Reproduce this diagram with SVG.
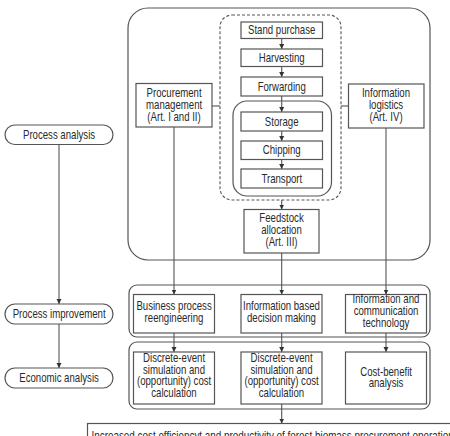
<svg xmlns="http://www.w3.org/2000/svg" width="450" height="436" viewBox="0 0 450 436">
<defs>
<style>
text{font-family:"Liberation Sans",Arial,sans-serif;font-size:12.5px;fill:#2a2a2a;text-anchor:middle;transform-box:fill-box;transform-origin:center;transform:scaleX(0.77)}
text.st{text-anchor:start;transform-origin:left center;transform:scaleX(0.79)}
.box{fill:#fff;stroke:#555;stroke-width:1.2}
.grp{fill:none;stroke:#555;stroke-width:1.2}
.dash{fill:none;stroke:#555;stroke-width:1.1;stroke-dasharray:3 2}
.ln{fill:none;stroke:#555;stroke-width:1.1}
.ar{fill:none;stroke:#555;stroke-width:1.1;marker-end:url(#ah)}
</style>
<marker id="ah" markerWidth="6" markerHeight="6" refX="5" refY="3" orient="auto" markerUnits="userSpaceOnUse">
<path d="M0,0.5 L5,3 L0,5.5 Z" fill="#333"/>
</marker>
</defs>
<rect width="450" height="436" fill="#fff"/>
<g id="groups">
<rect class="grp" x="128" y="8" width="302" height="252" rx="20"/>
<rect class="dash" x="220" y="15" width="121" height="185" rx="12"/>
<rect class="grp" x="233" y="101" width="98.5" height="95" rx="14"/>
<rect class="grp" x="129" y="285" width="301" height="52" rx="8"/>
<rect class="grp" x="129" y="342" width="301" height="67" rx="8"/>
</g>
<g id="connectors">
<line class="ar" x1="281.7" y1="38.5" x2="281.7" y2="49"/>
<line class="ar" x1="281.7" y1="66.5" x2="281.7" y2="77"/>
<line class="ar" x1="281.7" y1="96" x2="281.7" y2="112"/>
<line class="ar" x1="281.7" y1="131" x2="281.7" y2="141"/>
<line class="ar" x1="281.7" y1="159.5" x2="281.7" y2="169"/>
<line class="ar" x1="281.7" y1="200" x2="281.7" y2="209.5"/>
<line class="ln" x1="212" y1="106" x2="220" y2="106"/>
<line class="ln" x1="341" y1="106" x2="348" y2="106"/>
<line class="ar" x1="174" y1="127" x2="174" y2="294.5"/>
<line class="ar" x1="281.7" y1="253" x2="281.7" y2="294.5"/>
<line class="ar" x1="386" y1="128" x2="386" y2="294.5"/>
<line class="ar" x1="174" y1="333" x2="174" y2="352"/>
<line class="ar" x1="281.7" y1="333" x2="281.7" y2="352"/>
<line class="ar" x1="386" y1="333" x2="386" y2="352"/>
<line class="ar" x1="281.7" y1="404" x2="281.7" y2="423.5"/>
<line class="ar" x1="59" y1="144.5" x2="59" y2="304"/>
<line class="ar" x1="59" y1="324" x2="59" y2="368"/>
</g>
<g id="process-analysis"><rect class="box" x="5" y="125" width="108" height="19.5" rx="9.7"/><text x="59" y="139">Process analysis</text></g>
<g id="process-improvement"><rect class="box" x="5" y="304" width="108" height="20" rx="10"/><text x="59" y="318.5">Process improvement</text></g>
<g id="economic-analysis"><rect class="box" x="5" y="368" width="108" height="20" rx="10"/><text x="59" y="382.5">Economic analysis</text></g>
<g id="stand-purchase"><rect class="box" x="241" y="22" width="81.5" height="16.5"/><text x="281.7" y="34.5">Stand purchase</text></g>
<g id="harvesting"><rect class="box" x="241" y="49" width="81.5" height="17.5"/><text x="281.7" y="62">Harvesting</text></g>
<g id="forwarding"><rect class="box" x="241" y="77" width="81.5" height="19"/><text x="281.7" y="91">Forwarding</text></g>
<g id="storage"><rect class="box" x="241" y="112" width="81.5" height="19"/><text x="281.7" y="126">Storage</text></g>
<g id="chipping"><rect class="box" x="241" y="141" width="81.5" height="18.5"/><text x="281.7" y="154.5">Chipping</text></g>
<g id="transport"><rect class="box" x="241" y="169" width="81.5" height="19"/><text x="281.7" y="183">Transport</text></g>
<g id="procurement-management"><rect class="box" x="136" y="83.5" width="76" height="43.5"/><text x="174" y="97">Procurement</text><text x="174" y="109">management</text><text x="174" y="121">(Art. I and II)</text></g>
<g id="information-logistics"><rect class="box" x="348.5" y="84" width="75.5" height="44"/><text x="386" y="97">Information</text><text x="386" y="109">logistics</text><text x="386" y="121">(Art. IV)</text></g>
<g id="feedstock-allocation"><rect class="box" x="244" y="209.5" width="75" height="43.5"/><text x="281.5" y="222">Feedstock</text><text x="281.5" y="234">allocation</text><text x="281.5" y="246">(Art. III)</text></g>
<g id="bpr"><rect class="box" x="133.5" y="294.5" width="81" height="38.5"/><text x="174" y="310">Business process</text><text x="174" y="322">reengineering</text></g>
<g id="ibdm"><rect class="box" x="241" y="294.5" width="81" height="38.5"/><text x="281.5" y="310">Information based</text><text x="281.5" y="322">decision making</text></g>
<g id="ict"><rect class="box" x="345.5" y="294.5" width="81" height="38.5"/><text x="386" y="303.5">Information and</text><text x="386" y="315.5">communication</text><text x="386" y="327.5">technology</text></g>
<g id="des1"><rect class="box" x="133.5" y="352" width="81" height="52"/><text x="174" y="362.5">Discrete-event</text><text x="174" y="374">simulation and</text><text x="174" y="385.5">(opportunity) cost</text><text x="174" y="397.5">calculation</text></g>
<g id="des2"><rect class="box" x="241" y="352" width="81" height="52"/><text x="281.5" y="362.5">Discrete-event</text><text x="281.5" y="374">simulation and</text><text x="281.5" y="385.5">(opportunity) cost</text><text x="281.5" y="397.5">calculation</text></g>
<g id="cost-benefit"><rect class="box" x="345.5" y="352" width="81" height="52"/><text x="386" y="376">Cost-benefit</text><text x="386" y="387.5">analysis</text></g>
<g id="outcome"><rect class="box" x="87.5" y="423.5" width="380" height="30"/><text class="st" x="91.5" y="440">Increased cost efficiencyt and productivity of forest biomass procurement operations</text></g>
</svg>
